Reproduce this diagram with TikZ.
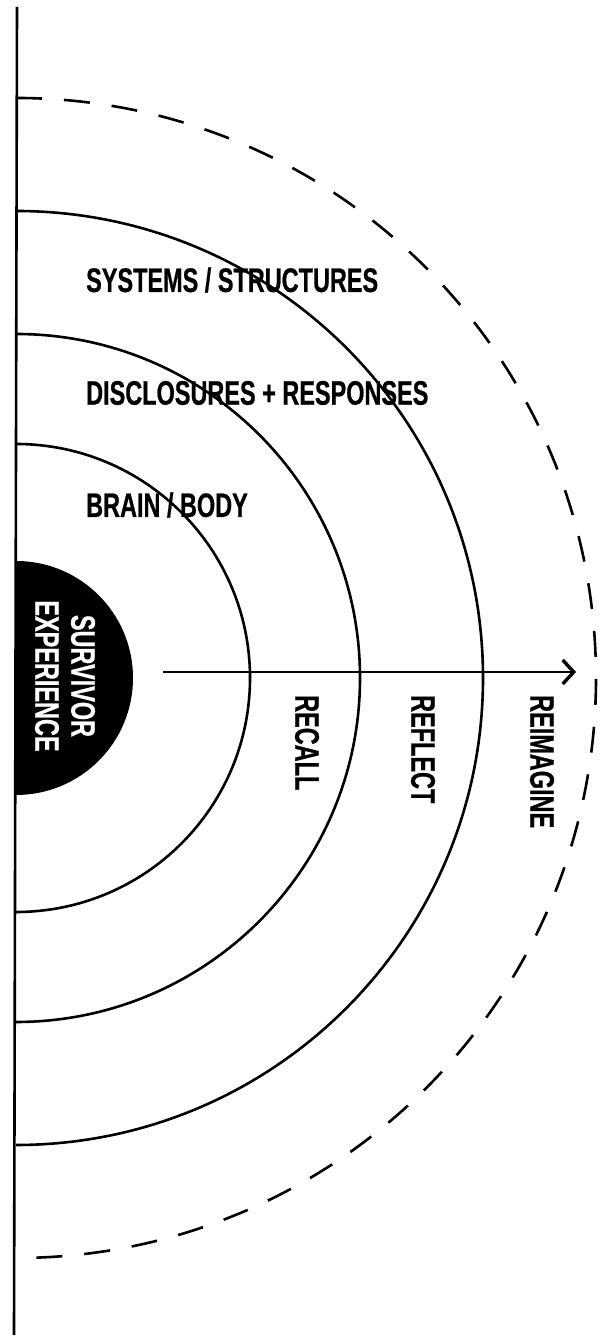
\documentclass[tikz,border=0pt]{standalone}
\usepackage{fontspec}
\newfontfamily\cond{Liberation Sans}[FakeStretch=0.69,FakeBold=0.6]
\usetikzlibrary{arrows.meta}
\begin{document}
\begin{tikzpicture}[x=1pt,y=1pt,
  ring/.style={line width=2.6pt,black},
  dashring/.style={line width=2.6pt,black,dash pattern=on 26pt off 22pt},
  lbl/.style={font=\cond\bfseries\fontsize{34}{36}\selectfont,inner sep=0pt},
  vlbl/.style={lbl,rotate=-90,anchor=west},
  flow/.style={line width=2.6pt,-{Straight Barb[length=11pt,width=24pt,line width=3.4pt]}}]
\useasboundingbox (0,0) rectangle (613,1337);
\coordinate (c) at (16,659);
% axis line
\coordinate (top) at (17,1330);
\coordinate (bot) at (14,2);
\draw[line width=2.6pt] (top) -- (bot);
% core half disc
\fill[black] (16,776) arc[start angle=90,end angle=-90,radius=117] -- cycle;
\node[lbl,text=white,rotate=-90,align=center] (core) at (65,661) {SURVIVOR\\EXPERIENCE};
% rings
\draw[ring] (16,893) arc[start angle=90,end angle=-90,radius=234];
\draw[ring] (16,1003) arc[start angle=90,end angle=-90,radius=344];
\draw[ring] (16,1126) arc[start angle=90,end angle=-90,radius=467];
\draw[dashring] (16,1239) arc[start angle=90,end angle=-90,radius=580];
% ring labels
\node[lbl,anchor=west] (sys) at (86,1057) {SYSTEMS / STRUCTURES};
\node[lbl,anchor=west] (dis) at (86,944) {DISCLOSURES + RESPONSES};
\node[lbl,anchor=west] (bra) at (86,832) {BRAIN / BODY};
% arrow
\coordinate (as) at (163,665);
\coordinate (ae) at (576,665);
\draw[flow] (as) -- (ae);
% stage labels
\node[vlbl] (recall) at (307,642) {RECALL};
\node[vlbl] (reflect) at (423,642) {REFLECT};
\node[vlbl] (reimag) at (542,642) {REIMAGINE};
\end{tikzpicture}
\end{document}
